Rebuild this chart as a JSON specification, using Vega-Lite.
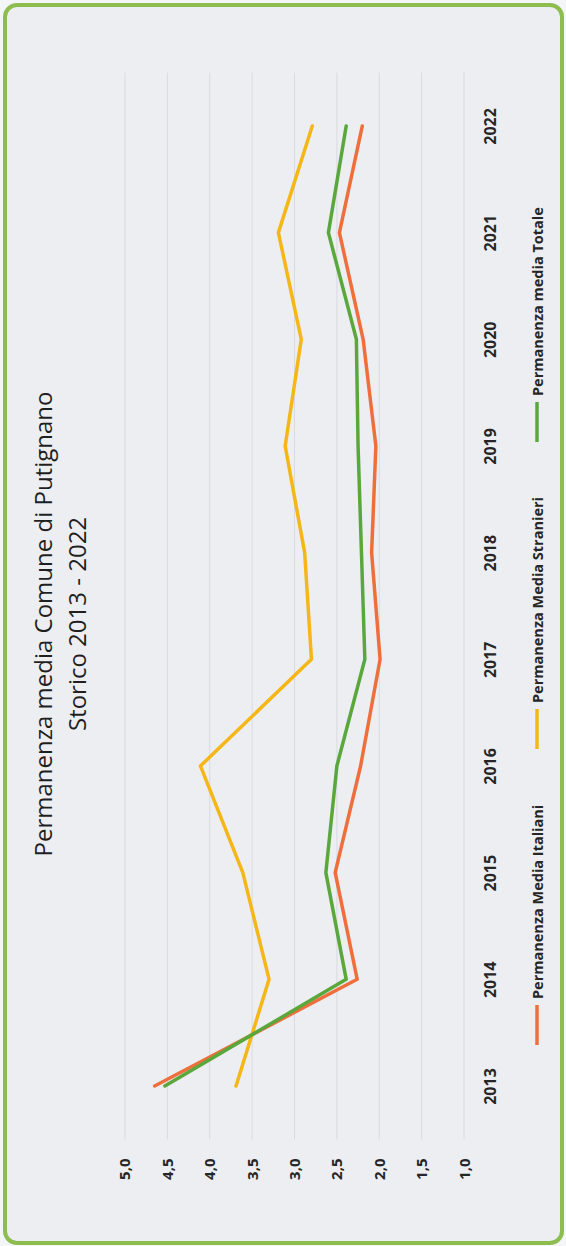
{
  "$schema": "https://vega.github.io/schema/vega-lite/v6.json",
  "width": 557,
  "height": 1238,
  "autosize": "none",
  "padding": {"left": 5, "top": 5, "right": 4, "bottom": 3},
  "background": "#f4f5f7",
  "config": {
    "view": {"fill": "#edeef2", "stroke": "#8dbd4e", "strokeWidth": 4, "cornerRadius": 12},
    "font": "Open Sans"
  },
  "title": {
    "text": "Permanenza media Comune di Putignano",
    "subtitle": "Storico 2013 - 2022",
    "orient": "left",
    "anchor": "middle",
    "frame": "group",
    "offset": -86,
    "font": "Open Sans",
    "fontSize": 24,
    "fontWeight": "normal",
    "color": "#1f1f1f",
    "subtitleFont": "Open Sans",
    "subtitleFontSize": 24,
    "subtitleColor": "#1f1f1f",
    "subtitlePadding": 10
  },
  "layer": [
    {
      "data": {"values": [{"v": 1}, {"v": 1.5}, {"v": 2}, {"v": 2.5}, {"v": 3}, {"v": 3.5}, {"v": 4}, {"v": 4.5}, {"v": 5}]},
      "mark": {"type": "rule", "color": "#d8dae0", "strokeWidth": 1},
      "encoding": {
        "x": {
          "field": "v", "type": "quantitative",
          "scale": {"domain": [-0.1563, 6.4159], "reverse": true, "nice": false, "zero": false},
          "axis": {
            "orient": "bottom", "values": [1, 1.5, 2, 2.5, 3, 3.5, 4, 4.5, 5],
            "labelExpr": "replace(format(datum.value, '.1f'), '.', ',')",
            "labelAngle": -90, "labelAlign": "right", "labelBaseline": "middle",
            "ticks": false, "domain": false, "grid": false, "offset": -85, "labelPadding": 0,
            "labelFont": "Open Sans", "labelFontSize": 15, "labelFontWeight": "bold", "labelColor": "#262626",
            "title": null
          }
        },
        "y": {
          "datum": 2012.5, "type": "quantitative",
          "scale": {"domain": [2011.528, 2023.134], "nice": false, "zero": false},
          "axis": {
            "orient": "right", "values": [2013, 2014, 2015, 2016, 2017, 2018, 2019, 2020, 2021, 2022],
            "format": "d", "labelAngle": -90, "labelAlign": "center", "labelBaseline": "middle",
            "ticks": false, "domain": false, "grid": false, "offset": -72, "labelPadding": 0,
            "labelFont": "Open Sans", "labelFontSize": 16, "labelFontWeight": "bold", "labelColor": "#262626",
            "title": null
          }
        },
        "y2": {"datum": 2022.5}
      }
    },
    {
      "data": {
        "values": [
          {"year": 2013, "serie": "Permanenza Media Italiani", "v": 4.65},
          {"year": 2014, "serie": "Permanenza Media Italiani", "v": 2.26},
          {"year": 2015, "serie": "Permanenza Media Italiani", "v": 2.52},
          {"year": 2016, "serie": "Permanenza Media Italiani", "v": 2.22},
          {"year": 2017, "serie": "Permanenza Media Italiani", "v": 1.99},
          {"year": 2018, "serie": "Permanenza Media Italiani", "v": 2.09},
          {"year": 2019, "serie": "Permanenza Media Italiani", "v": 2.04},
          {"year": 2020, "serie": "Permanenza Media Italiani", "v": 2.19},
          {"year": 2021, "serie": "Permanenza Media Italiani", "v": 2.47},
          {"year": 2022, "serie": "Permanenza Media Italiani", "v": 2.20},
          {"year": 2013, "serie": "Permanenza Media Stranieri", "v": 3.69},
          {"year": 2014, "serie": "Permanenza Media Stranieri", "v": 3.30},
          {"year": 2015, "serie": "Permanenza Media Stranieri", "v": 3.61},
          {"year": 2016, "serie": "Permanenza Media Stranieri", "v": 4.11},
          {"year": 2017, "serie": "Permanenza Media Stranieri", "v": 2.80},
          {"year": 2018, "serie": "Permanenza Media Stranieri", "v": 2.88},
          {"year": 2019, "serie": "Permanenza Media Stranieri", "v": 3.11},
          {"year": 2020, "serie": "Permanenza Media Stranieri", "v": 2.92},
          {"year": 2021, "serie": "Permanenza Media Stranieri", "v": 3.19},
          {"year": 2022, "serie": "Permanenza Media Stranieri", "v": 2.79},
          {"year": 2013, "serie": "Permanenza media Totale", "v": 4.53},
          {"year": 2014, "serie": "Permanenza media Totale", "v": 2.39},
          {"year": 2015, "serie": "Permanenza media Totale", "v": 2.63},
          {"year": 2016, "serie": "Permanenza media Totale", "v": 2.50},
          {"year": 2017, "serie": "Permanenza media Totale", "v": 2.17},
          {"year": 2018, "serie": "Permanenza media Totale", "v": 2.21},
          {"year": 2019, "serie": "Permanenza media Totale", "v": 2.25},
          {"year": 2020, "serie": "Permanenza media Totale", "v": 2.27},
          {"year": 2021, "serie": "Permanenza media Totale", "v": 2.60},
          {"year": 2022, "serie": "Permanenza media Totale", "v": 2.39}
        ]
      },
      "mark": {"type": "line", "strokeWidth": 3.5, "strokeJoin": "round", "strokeCap": "round"},
      "encoding": {
        "x": {
          "field": "v", "type": "quantitative",
          "scale": {"domain": [-0.1563, 6.4159], "reverse": true, "nice": false, "zero": false},
          "axis": {
            "orient": "bottom", "values": [1, 1.5, 2, 2.5, 3, 3.5, 4, 4.5, 5],
            "labelExpr": "replace(format(datum.value, '.1f'), '.', ',')",
            "labelAngle": -90, "labelAlign": "right", "labelBaseline": "middle",
            "ticks": false, "domain": false, "grid": false, "offset": -85, "labelPadding": 0,
            "labelFont": "Open Sans", "labelFontSize": 15, "labelFontWeight": "bold", "labelColor": "#262626",
            "title": null
          }
        },
        "y": {
          "field": "year", "type": "quantitative",
          "scale": {"domain": [2011.528, 2023.134], "nice": false, "zero": false},
          "axis": {
            "orient": "right", "values": [2013, 2014, 2015, 2016, 2017, 2018, 2019, 2020, 2021, 2022],
            "format": "d", "labelAngle": -90, "labelAlign": "center", "labelBaseline": "middle",
            "ticks": false, "domain": false, "grid": false, "offset": -72, "labelPadding": 0,
            "labelFont": "Open Sans", "labelFontSize": 16, "labelFontWeight": "bold", "labelColor": "#262626",
            "title": null
          }
        },
        "order": {"field": "year", "type": "quantitative"},
        "color": {
          "field": "serie", "type": "nominal",
          "scale": {
            "domain": ["Permanenza media Totale", "Permanenza Media Stranieri", "Permanenza Media Italiani"],
            "range": ["#5aa73c", "#f5b718", "#ef6f3c"]
          },
          "legend": {
            "orient": "none", "legendX": 510, "legendY": 395, "direction": "vertical",
            "title": null, "symbolType": "M0,-1L0,1", "symbolSize": 1600, "symbolStrokeWidth": 3.5,
            "symbolOffset": 0, "labelOffset": 0, "rowPadding": 48, "padding": 0,
            "labelFont": "Open Sans", "labelFontSize": 14.5, "labelFontWeight": "bold", "labelColor": "#262626",
            "labelLimit": 400, "labelAlign": "left", "labelBaseline": "middle",
            "encoding": {"labels": {"angle": {"value": -90}, "dx": {"value": 26}, "dy": {"value": -20}}}
          }
        }
      }
    }
  ]
}
